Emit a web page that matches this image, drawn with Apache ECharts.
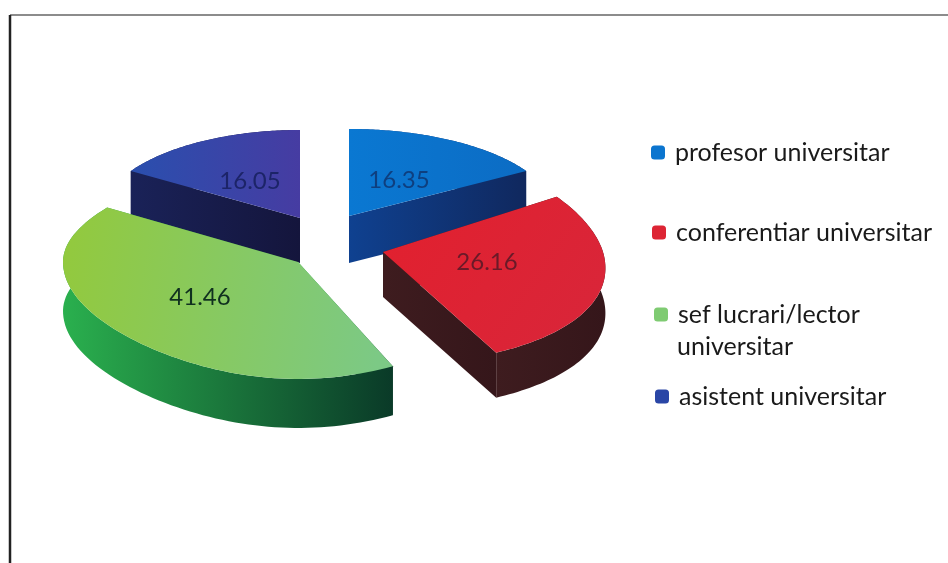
<!DOCTYPE html>
<html lang="ro">

<head>
    <meta charset="UTF-8">
    <title>Grad didactic</title>
    <style>
        * {
            margin: 0;
            padding: 0;
        }

        html, body {
            width: 100%;
            height: 100%;
            background: #fff;
        }
    </style>
    <script src="https://cdn.jsdelivr.net/npm/echarts@6/dist/echarts.min.js"></script>
</head>

<body>
    <div id="main" style="width:948px;height:563px;"></div>
</body>
<script>
    var categories = ['profesor universitar', 'conferentiar universitar', 'sef lucrari/lector universitar', 'asistent universitar'];
    var values = [16.35, 26.16, 41.46, 16.05];
    var valueLabels = ['16.35', '26.16', '41.46', '16.05'];

    // every exploded slice of the picture has its own ellipse, the original is a distorted scan
    var cx = [349, 383, 298, 300];
    var cy = [216, 252, 262, 218];
    var rx = [207, 220, 235, 200];
    var ryBack = [87, 107, 102, 88];
    var ryFront = [87, 113, 117, 88];
    var persp = [0, 0.15, 0, 0];
    var squash = [0, 0, 0.14, 0];
    var depth = [47, 45, 49, 45];
    var labelX = [399, 487, 200, 250];
    var labelY = [180, 262, 297, 181];
    var labelColor = ['#0e3f7f', '#6a1a28', '#10301f', '#1c2468'];
    var legendColor = ['#0b75cf', '#dd2534', '#7fcb72', '#2a46a6'];
    var legendLeft = [651, 652, 654, 655];
    var legendTop = [140, 220, 302, 384];
    var zOrder = [1, 2, 3, 1];

    function grad(x2, y2, from, to) {
        return new echarts.graphic.LinearGradient(0, 0, x2, y2, [
            { offset: 0, color: from },
            { offset: 1, color: to }
        ]);
    }
    var topFill = [
        grad(1, 0, '#0a78d2', '#0c6cc4'),
        grad(1, 1, '#e2202e', '#d8263a'),
        grad(1, 0.3, '#93c93c', '#7cc985'),
        grad(1, 0, '#2a4fae', '#463ca2')
    ];
    var sideFill = [
        grad(1, 0, '#0f4190', '#10285e'),
        grad(1, 0, '#3e1c1f', '#35161a'),
        grad(1, 0, '#2ab04e', '#0a3a28'),
        grad(1, 0, '#1a2258', '#14153c')
    ];

    var total = values.reduce(function (a, b) { return a + b; }, 0);

    function rimPoint(i, angle, drop) {
        var s = Math.sin(angle), c = Math.cos(angle);
        return [
            cx[i] + rx[i] * s * (1 - persp[i] * c - squash[i] * c * c),
            cy[i] - (c > 0 ? ryBack[i] : ryFront[i]) * c + drop
        ];
    }

    function sliceRenderer(i) {
        return function (params, api) {
            var before = 0;
            for (var k = 0; k < i; k++) {
                before += values[k];
            }
            var a0 = before / total * Math.PI * 2;
            var a1 = (before + api.value(0)) / total * Math.PI * 2;
            var rimTop = [], rimBottom = [];
            for (var n = 0; n <= 80; n++) {
                var a = a0 + (a1 - a0) * n / 80;
                rimTop.push(rimPoint(i, a, 0));
                rimBottom.unshift(rimPoint(i, a, depth[i]));
            }
            var apex = [cx[i], cy[i]];
            var apexLow = [cx[i], cy[i] + depth[i]];
            var wall = { fill: sideFill[i] };
            return {
                type: 'group',
                children: [
                    { type: 'polygon', shape: { points: [apex, rimTop[0], rimBottom[80], apexLow] }, style: wall },
                    { type: 'polygon', shape: { points: [apex, rimTop[80], rimBottom[0], apexLow] }, style: wall },
                    { type: 'polygon', shape: { points: rimTop.concat(rimBottom) }, style: wall },
                    { type: 'polygon', shape: { points: [apex].concat(rimTop) }, style: { fill: topFill[i] } },
                    {
                        type: 'text',
                        style: {
                            text: valueLabels[i],
                            x: labelX[i],
                            y: labelY[i],
                            align: 'center',
                            verticalAlign: 'middle',
                            fill: labelColor[i],
                            font: '24px Lato'
                        }
                    }
                ]
            };
        };
    }

    function initEchart() {
        var option = {
            animation: false,
            backgroundColor: '#fff',
            legend: categories.map(function (name, i) {
                return {
                    data: [name],
                    left: legendLeft[i],
                    top: legendTop[i],
                    padding: 0,
                    selectedMode: false,
                    icon: 'roundRect',
                    itemWidth: 14,
                    itemHeight: 14,
                    formatter: function (n) {
                        return n.replace('lector universitar', 'lector');
                    },
                    textStyle: {
                        fontFamily: 'Lato',
                        fontSize: 25,
                        color: '#1a1a1a',
                        padding: [0, 0, 0, 5]
                    }
                };
            }),
            graphic: [
                { type: 'line', shape: { x1: 10, y1: 15, x2: 948, y2: 15 }, style: { stroke: '#666', lineWidth: 1.5 }, silent: true },
                { type: 'line', shape: { x1: 10, y1: 15, x2: 10, y2: 563 }, style: { stroke: '#222', lineWidth: 2.5 }, silent: true },
                { type: 'text', left: 677, top: 334, style: { text: 'universitar', fill: '#1a1a1a', font: '25px Lato' }, silent: true }
            ],
            series: categories.map(function (name, i) {
                return {
                    name: name,
                    type: 'custom',
                    coordinateSystem: 'none',
                    z: zOrder[i],
                    silent: true,
                    itemStyle: { color: legendColor[i] },
                    renderItem: sliceRenderer(i),
                    data: [values[i]]
                };
            })
        };
        var myChart = echarts.init(document.getElementById('main'));
        myChart.setOption(option);
    }
    initEchart();
</script>

</html>
